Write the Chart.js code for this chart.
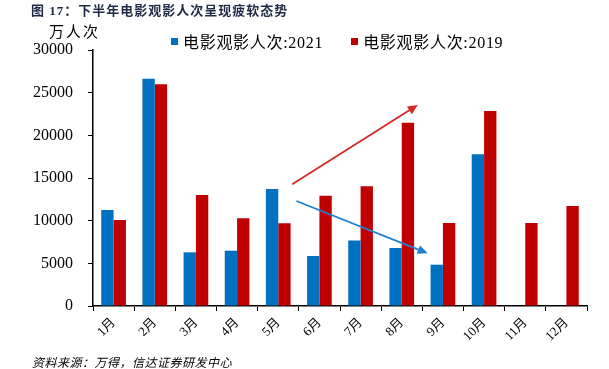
<!DOCTYPE html>
<html>
<head>
<meta charset="utf-8">
<script src="https://cdn.jsdelivr.net/npm/chart.js@4/dist/chart.umd.min.js"></script>
<style>
  html, body { margin: 0; padding: 0; background: #fff; }
  #wrap { position: relative; width: 609px; height: 369px; overflow: hidden; }
  #c { position: absolute; left: 0; top: 0; }
  .txt { position: absolute; white-space: nowrap; }
  #title { left: 31px; top: 0px; font: bold 13px "Liberation Serif", "Noto Sans CJK SC", serif; color: #1F2A44; letter-spacing: 1px; }
  #unit { left: 49px; top: 20px; font: 15px "Noto Sans CJK SC", serif; color: #000; letter-spacing: 2px; }
  #legend { left: 171px; top: 29px; font: 16px "Liberation Serif", "Noto Sans CJK SC", serif; color: #000; letter-spacing: 0.7px; }
  .sw { display: inline-block; width: 7px; height: 7px; margin-right: 5px; vertical-align: 3px; }
  .item { display: inline-block; }
  #source { left: 32px; top: 353px; font: italic 12px "Noto Sans CJK SC", sans-serif; color: #000; letter-spacing: 0.5px; }
</style>
</head>
<body>
<div id="wrap">
  <canvas id="c" width="609" height="369"></canvas>
  <div class="txt" id="title">图 17：下半年电影观影人次呈现疲软态势</div>
  <div class="txt" id="unit">万人次</div>
  <div class="txt" id="legend"></div>
  <div class="txt" id="source">资料来源：万得，信达证券研发中心</div>
</div>
<script>
const categories = ['1月','2月','3月','4月','5月','6月','7月','8月','9月','10月','11月','12月'];
const seriesNames = ['电影观影人次:2021', '电影观影人次:2019'];
const values2021 = [11250, 26640, 6290, 6480, 13710, 5860, 7690, 6800, 4840, 17780, null, null];
const values2019 = [10080, 25980, 13010, 10270, 9690, 12930, 14030, 21480, 9730, 22850, 9730, 11720];
const yTicks = [0, 5000, 10000, 15000, 20000, 25000, 30000];
// annotation arrows in data units: [xIndexStart, yStart, xIndexEnd, yEnd]
const redArrow = [4.34, 14260, 7.39, 23555];
const blueArrow = [4.44, 12305, 7.63, 6176];

const colors = ['#0070C0', '#C00000'];
const arrowColors = ['#1F80D0', '#D62828'];

// HTML legend
const leg = document.getElementById('legend');
seriesNames.forEach((n, i) => {
  const s = document.createElement('span');
  s.className = 'item';
  s.style.marginRight = i === 0 ? '28px' : '0';
  s.innerHTML = '<span class="sw" style="background:' + colors[i] + '"></span>' + n;
  leg.appendChild(s);
});

const arrowPlugin = {
  id: 'arrows',
  afterDatasetsDraw(chart) {
    const ctx = chart.ctx;
    const xs = chart.scales.x, ys = chart.scales.y;
    [[blueArrow, arrowColors[0]], [redArrow, arrowColors[1]]].forEach(([a, col]) => {
      const x1 = xs.getPixelForValue(a[0]), y1 = ys.getPixelForValue(a[1]);
      const x2 = xs.getPixelForValue(a[2]), y2 = ys.getPixelForValue(a[3]);
      const ang = Math.atan2(y2 - y1, x2 - x1);
      const hl = 10, hw = 4.5;
      ctx.save();
      ctx.strokeStyle = col; ctx.fillStyle = col; ctx.lineWidth = 1.8;
      ctx.beginPath();
      ctx.moveTo(x1, y1);
      ctx.lineTo(x2 - hl * Math.cos(ang), y2 - hl * Math.sin(ang));
      ctx.stroke();
      ctx.beginPath();
      ctx.moveTo(x2, y2);
      ctx.lineTo(x2 - hl * Math.cos(ang) + hw * Math.sin(ang), y2 - hl * Math.sin(ang) - hw * Math.cos(ang));
      ctx.lineTo(x2 - hl * Math.cos(ang) - hw * Math.sin(ang), y2 - hl * Math.sin(ang) + hw * Math.cos(ang));
      ctx.closePath();
      ctx.fill();
      ctx.restore();
    });
  }
};

new Chart(document.getElementById('c'), {
  type: 'bar',
  data: {
    labels: categories,
    datasets: [
      { label: seriesNames[0], data: values2021, backgroundColor: colors[0] },
      { label: seriesNames[1], data: values2019, backgroundColor: colors[1] }
    ]
  },
  options: {
    responsive: false,
    animation: false,
    devicePixelRatio: 1,
    layout: { padding: { top: 50, left: 0, right: 22, bottom: 0 } },
    datasets: { bar: { categoryPercentage: 0.6, barPercentage: 1.0 } },
    plugins: { legend: { display: false }, tooltip: { enabled: false }, title: { display: false } },
    scales: {
      x: {
        afterFit(s) { s.height = 63; },
        grid: { display: true, drawOnChartArea: false, drawTicks: true, tickLength: 5, color: '#000', offset: true },
        border: { display: true, color: '#000', width: 1.5 },
        ticks: {
          color: '#000', maxRotation: 45, minRotation: 45, padding: 4, autoSkip: false,
          font: { family: '"Liberation Serif", "Noto Sans CJK SC", serif', size: 13 }
        }
      },
      y: {
        min: 0, max: 30000,
        afterFit(s) { s.width = 93; },
        afterBuildTicks(s) { s.ticks = yTicks.map(v => ({ value: v })); },
        grid: { display: true, drawOnChartArea: false, drawTicks: true, tickLength: 5, color: '#000' },
        border: { display: true, color: '#000', width: 1.5 },
        ticks: {
          color: '#000', padding: 15,
          callback: (v) => String(v),
          font: { family: '"Liberation Serif", serif', size: 16 }
        }
      }
    }
  },
  plugins: [arrowPlugin]
});
</script>
</body>
</html>
